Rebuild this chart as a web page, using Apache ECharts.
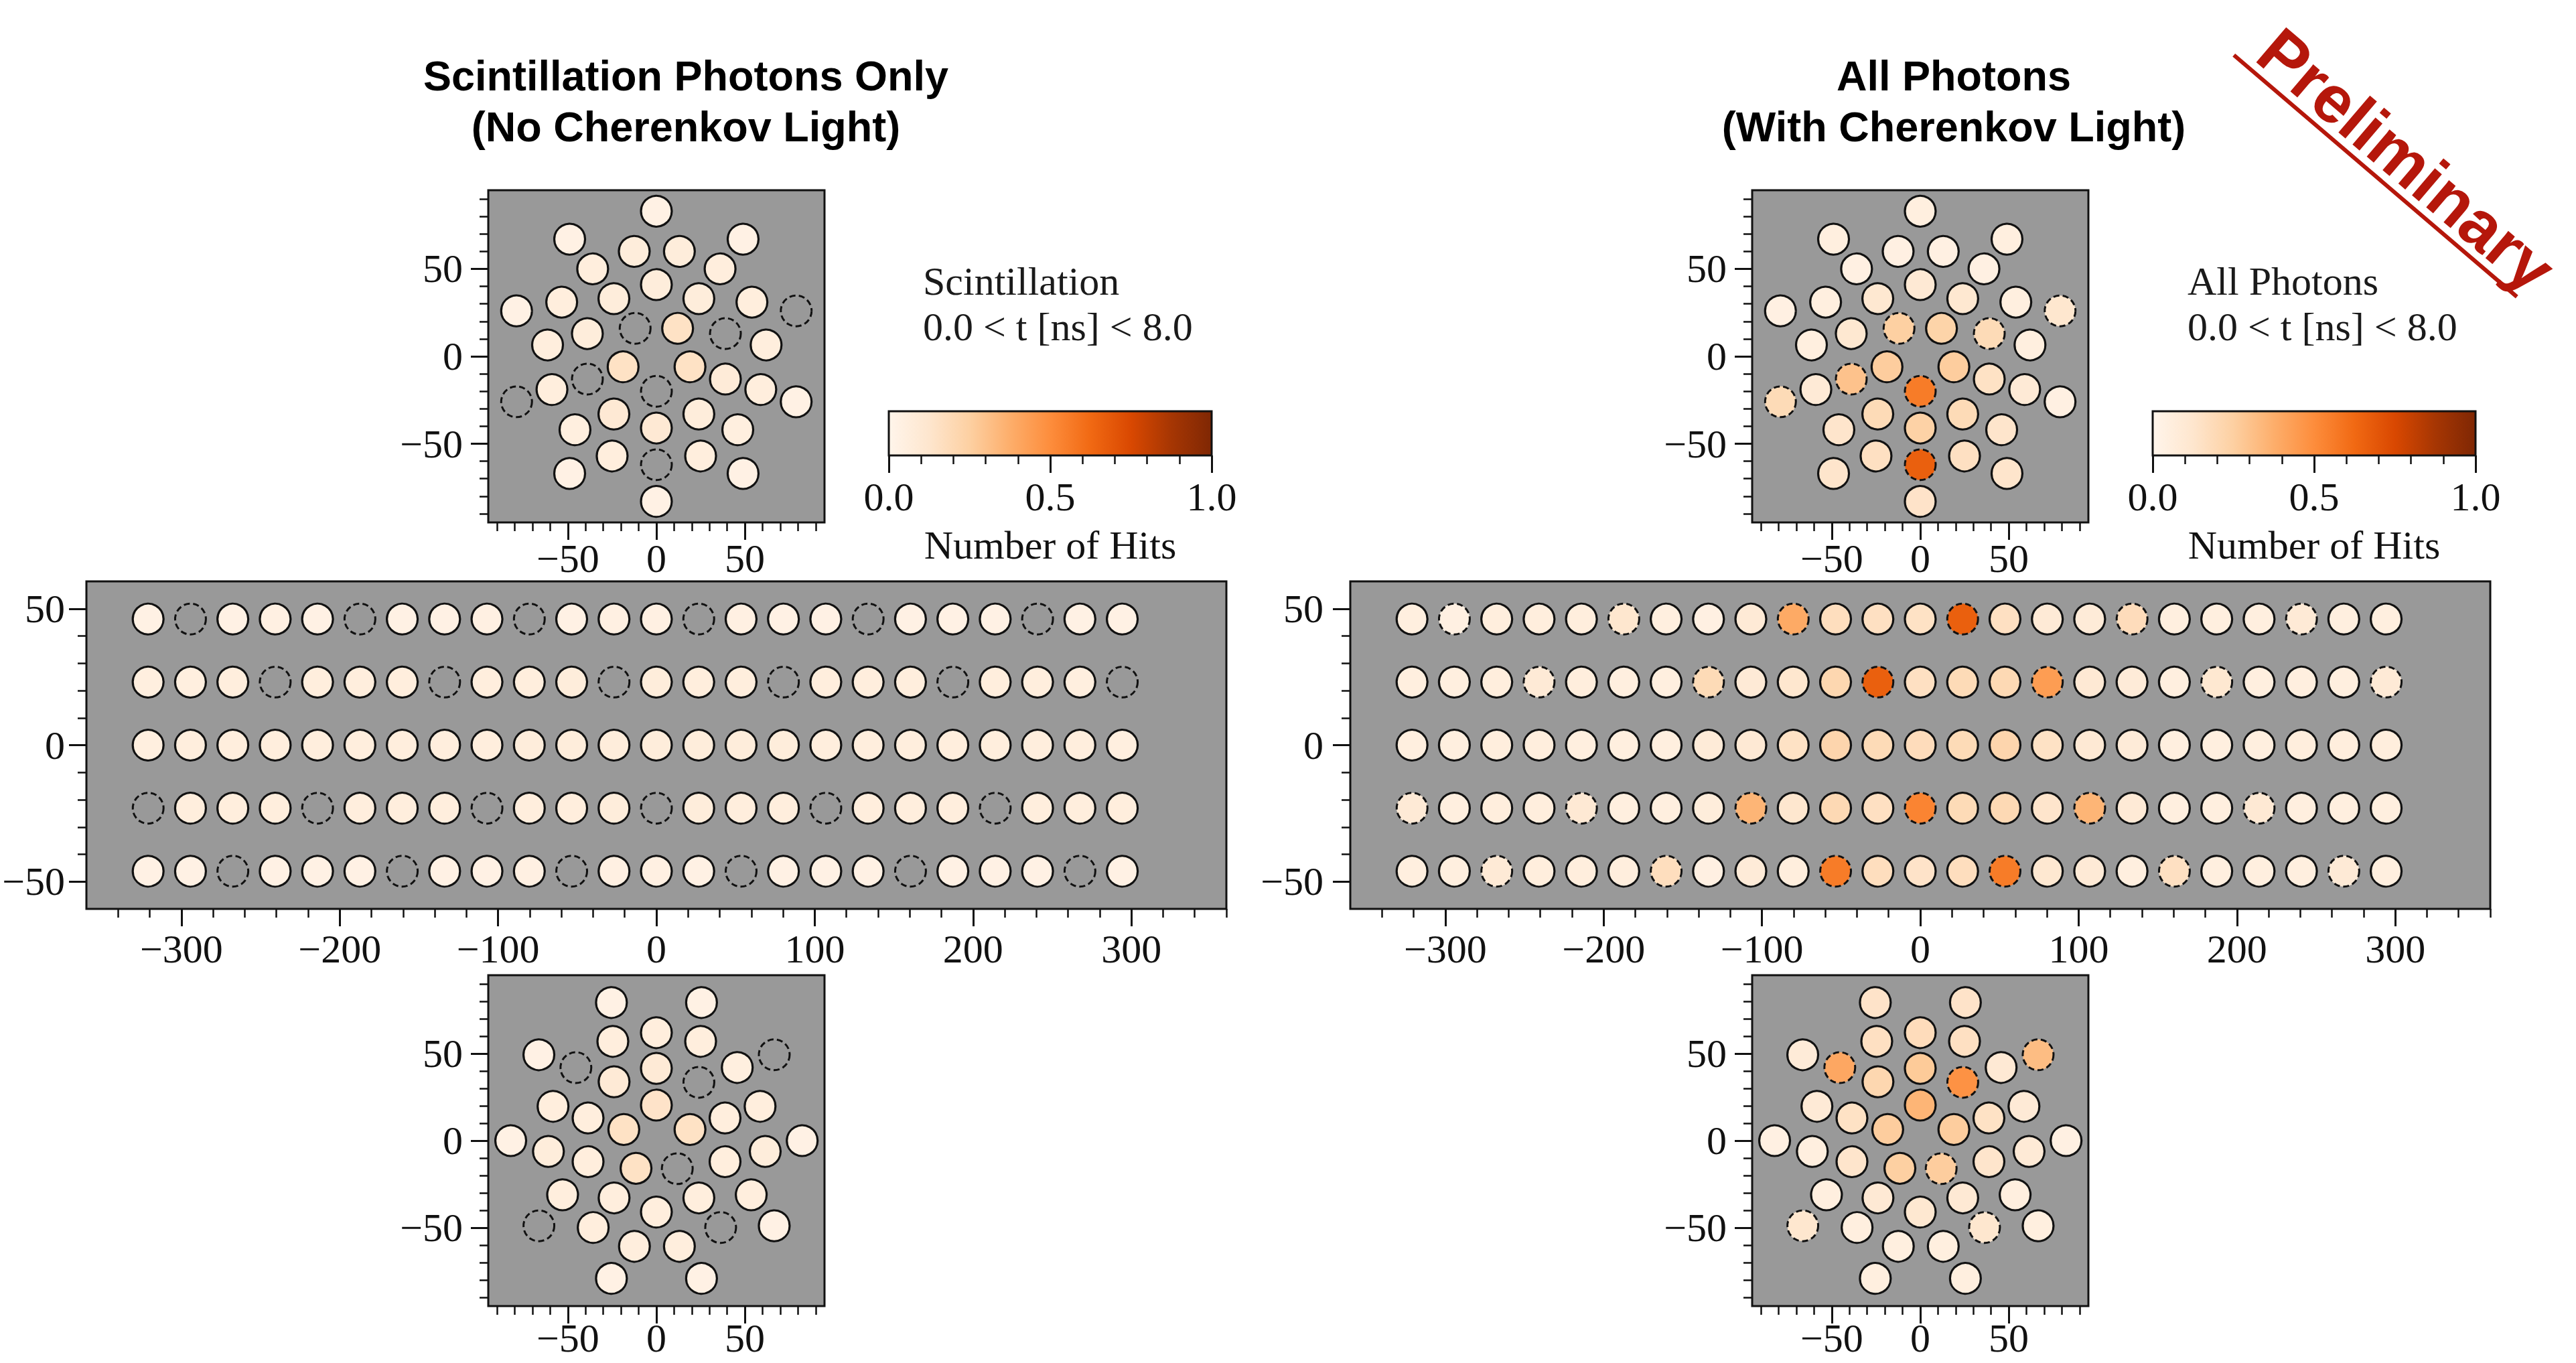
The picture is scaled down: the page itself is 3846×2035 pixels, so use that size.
<!DOCTYPE html>
<html>
<head>
<meta charset="utf-8">
<script src="https://cdn.jsdelivr.net/npm/echarts@6/dist/echarts.min.js"></script>
<style>html,body{margin:0;padding:0;background:#fff;}#main{width:3846px;height:2035px;}</style>
</head>
<body>
<div id="main"></div>
<script>
// ---------------- PMT geometry ----------------
const capTopX = [0,-49,49,-12.5,13,-36,36,0,-24,24,-53.5,54,-79,79,-12,12,-39,39,-61.5,62,-18.8,19,-39,39,-59,59,0,-79,79,-24,24,-46,46,0,-25,25,0,-49,49,0];
const capTopY = [83,67,67,60,60,50,50,41,33,33,31,31,26,26,16,16,13,13,6.5,6.5,-6,-6,-13,-13,-19,-19,-20,-26,-26,-33,-33,-42,-42,-41,-57,-57,-62,-67,-67,-83];
const capBotX = [-25.4,25.5,0,-24.6,25,-66.4,-45.5,0,45.7,66.6,-23.9,24,-58.4,0,-38.6,38.8,58.6,-18.4,19,-82.3,82.4,-61,61.5,-38.6,-11.5,11.8,38.8,-53,-23.9,24,53.6,0,-66.4,-35.7,36.3,66.6,-12.4,13,-25.4,25.5];
const capBotY = [79.3,79.3,62,57,57,49.3,41.9,41.5,42,49.3,33.8,33.5,19.7,20.4,13,13,19.7,6.4,6.4,0,0,-6.2,-6.2,-12.1,-15.9,-16.1,-12.1,-31.1,-32.9,-32.9,-31.1,-41,-48.9,-49.9,-49.9,-48.9,-60.7,-60.7,-79.1,-79.1];
const barrelX = [-321,-294.25,-267.5,-240.75,-214,-187.25,-160.5,-133.75,-107,-80.25,-53.5,-26.75,0,26.75,53.5,80.25,107,133.75,160.5,187.25,214,240.75,267.5,294.25];
const barrelY = [46.2,23.1,0,-23.1,-46.2];

// ---------------- hit values (normalised) ----------------
const scintTop = [0.03,0.03,0.03,0.07,0.07,0.06,0.06,0.07,0.07,0.07,0.06,0.06,0.03,0,0,0.15,0.07,0,0.06,0.06,0.15,0.15,0,0.08,0.06,0.06,0,0,0.03,0.10,0.07,0.05,0.05,0.10,0.06,0.06,0,0.03,0.03,0.03];
const allTop   = [0.05,0.05,0.05,0.04,0.04,0.04,0.04,0.10,0.11,0.11,0.05,0.05,0.04,0.12,0.25,0.23,0.11,0.19,0.05,0.05,0.26,0.26,0.30,0.15,0.09,0.09,0.56,0.19,0.04,0.19,0.19,0.13,0.13,0.24,0.16,0.16,0.66,0.13,0.13,0.14];
const scintBot = [0.03,0.03,0.06,0.06,0.06,0.03,0,0.09,0.05,0,0.09,0,0.06,0.14,0.06,0.06,0.06,0.15,0.15,0.03,0.03,0.07,0.07,0.06,0.15,0,0.06,0.06,0.06,0.06,0.06,0.06,0,0.06,0,0.03,0.06,0.06,0.03,0.03];
const allBot   = [0.14,0.14,0.18,0.16,0.16,0.08,0.40,0.27,0.10,0.32,0.21,0.48,0.09,0.35,0.15,0.15,0.09,0.26,0.26,0.04,0.04,0.05,0.09,0.13,0.25,0.26,0.13,0.05,0.10,0.10,0.05,0.11,0.12,0.05,0.12,0.05,0.05,0.05,0.05,0.05];
const scintBarrel1 = [0.03,0,0.03,0.04,0.03,0,0.03,0.03,0.04,0,0.03,0.04,0.04,0,0.04,0.03,0.03,0,0.03,0.03,0.03,0,0.03,0.03];
const scintBarrel2 = [0.05,0.05,0.06,0,0.06,0.06,0.06,0,0.06,0.06,0.07,0,0.07,0.06,0.06,0,0.06,0.06,0.06,0,0.06,0.06,0.05,0];
const scintBarrel3 = [0.05,0.06,0.06,0.06,0.06,0.06,0.06,0.06,0.06,0.07,0.07,0.07,0.07,0.07,0.07,0.07,0.06,0.06,0.06,0.06,0.06,0.06,0.06,0.05];
const scintBarrel4 = [0,0.06,0.06,0.06,0,0.06,0.06,0.06,0,0.06,0.06,0.07,0,0.07,0.06,0.06,0,0.06,0.06,0.06,0,0.06,0.06,0.06];
const scintBarrel5 = [0.03,0.03,0,0.03,0.03,0.03,0,0.03,0.03,0.04,0,0.04,0.04,0.03,0,0.03,0.03,0.03,0,0.03,0.03,0.03,0,0.03];
const allBarrel1 = [0.05,0.04,0.06,0.06,0.06,0.12,0.05,0.04,0.09,0.39,0.17,0.16,0.15,0.66,0.16,0.09,0.08,0.18,0.05,0.05,0.05,0.09,0.05,0.05];
const allBarrel2 = [0.05,0.05,0.06,0.09,0.06,0.05,0.05,0.19,0.09,0.12,0.21,0.66,0.16,0.19,0.20,0.44,0.10,0.08,0.05,0.11,0.05,0.05,0.05,0.09];
const allBarrel3 = [0.05,0.05,0.06,0.06,0.05,0.05,0.05,0.08,0.10,0.15,0.22,0.19,0.18,0.19,0.22,0.15,0.10,0.08,0.05,0.05,0.05,0.06,0.06,0.06];
const allBarrel4 = [0.09,0.05,0.06,0.06,0.10,0.05,0.05,0.07,0.35,0.12,0.20,0.16,0.53,0.19,0.20,0.13,0.35,0.09,0.05,0.05,0.10,0.05,0.05,0.05];
const allBarrel5 = [0.05,0.05,0.09,0.06,0.06,0.06,0.17,0.04,0.08,0.06,0.56,0.17,0.14,0.17,0.56,0.11,0.09,0.05,0.16,0.05,0.05,0.05,0.09,0.05];

// ---------------- ticks ----------------
const capTicks = [-50,0,50];
const capMinor = [-90,-80,-70,-60,-40,-30,-20,-10,10,20,30,40,60,70,80,90];
const barrelXTicks = [-300,-200,-100,0,100,200,300];
const barrelXMinor = [-340,-320,-280,-260,-240,-220,-180,-160,-140,-120,-80,-60,-40,-20,20,40,60,80,120,140,160,180,220,240,260,280,320,340,360];
const barrelYTicks = [-50,0,50];
const barrelYMinor = [-40,-30,-20,-10,10,20,30,40];
const cbarTicks = [0,0.5,1];
const cbarMinor = [0.1,0.2,0.3,0.4,0.6,0.7,0.8,0.9];
const ORANGES = ['#fff5eb','#fee6ce','#fdd0a2','#fdae6b','#fd8d3c','#f16913','#d94801','#a63603','#7f2704'];

// ---------------- styling constants ----------------
const GREY = '#999999', INK = '#111111', RED = '#b5170b';
const SERIF = '"Liberation Serif","DejaVu Serif",serif';
const SANS = '"Liberation Sans",Arial,sans-serif';
const SHIFT = 1887;
const fmtMinus = v => (v < 0 ? '\u2212' : '') + Math.abs(v);

const grids = [], xAxes = [], yAxes = [], series = [], colored = [];

function axisPair(dim, gi, range, major, minor, margin, fmt, extra) {
  const list = dim === 'x' ? xAxes : yAxes;
  const pos = dim === 'x' ? 'bottom' : 'left';
  const idx = list.length;
  list.push(Object.assign({
    type: 'value', gridIndex: gi, min: range[0], max: range[1], position: pos,
    axisLine: {show: false, onZero: false}, splitLine: {show: false},
    axisTick: {show: true, inside: false, length: 26, customValues: major, lineStyle: {color: INK, width: 3}},
    axisLabel: {show: true, customValues: major, margin: margin, fontFamily: SERIF, fontSize: 60,
      lineHeight: 56, color: INK, formatter: fmt || fmtMinus}
  }, extra || {}));
  list.push({
    type: 'value', gridIndex: gi, min: range[0], max: range[1], position: pos,
    axisLine: {show: false, onZero: false}, splitLine: {show: false},
    axisTick: {show: true, inside: false, length: 13, customValues: minor, lineStyle: {color: INK, width: 2.5}},
    axisLabel: {show: false}
  });
  return idx;
}

function panel(rect, xr, yr, xMaj, xMin, yMaj, yMin, xMargin, yMargin) {
  const gi = grids.length;
  grids.push({left: rect[0], top: rect[1], width: rect[2], height: rect[3], show: true,
    backgroundColor: GREY, borderColor: INK, borderWidth: 3, outerBoundsMode: 'none'});
  return {xi: axisPair('x', gi, xr, xMaj, xMin, xMargin), yi: axisPair('y', gi, yr, yMaj, yMin, yMargin)};
}

function pmts(ax, xs, ys, vals, scint, fillDashed) {
  const solid = [], dashed = [];
  xs.forEach((x, i) => { const p = [x, ys[i], vals[i]]; (scint[i] === 0 ? dashed : solid).push(p); });
  series.push({type: 'scatter', xAxisIndex: ax.xi, yAxisIndex: ax.yi, data: solid, symbol: 'circle',
    symbolSize: 46, silent: true, itemStyle: {borderColor: INK, borderWidth: 3.2, opacity: 1}});
  colored.push(series.length - 1);
  series.push({type: 'scatter', xAxisIndex: ax.xi, yAxisIndex: ax.yi, data: dashed, symbol: 'circle',
    symbolSize: 46, silent: true, itemStyle: {color: fillDashed ? '#ffffff' : 'rgba(0,0,0,0)',
      borderColor: INK, borderWidth: 3, borderType: [9, 5], opacity: 1}});
  if (fillDashed) colored.push(series.length - 1);
}

function barrelFlat(rows) {
  const xs = [], ys = [], vs = [];
  rows.forEach((row, r) => row.forEach((v, c) => { xs.push(barrelX[c]); ys.push(barrelY[r]); vs.push(v); }));
  return {xs, ys, vs};
}

function colorbar(left) {
  const gi = grids.length;
  grids.push({left: left, top: 614, width: 482, height: 66, show: false, outerBoundsMode: 'none'});
  const xi = axisPair('x', gi, [0, 1], cbarTicks, cbarMinor, 34, v => v.toFixed(1), {
    name: 'Number of Hits', nameLocation: 'middle', nameGap: 104,
    nameTextStyle: {fontFamily: SERIF, fontSize: 60, color: INK}
  });
  const yi = yAxes.length;
  yAxes.push({type: 'value', gridIndex: gi, min: 0, max: 1, show: false});
  series.push({
    type: 'custom', xAxisIndex: xi, yAxisIndex: yi, silent: true, data: [[0, 0, 1, 1]],
    renderItem: (params, api) => {
      const a = api.coord([api.value(0), api.value(3)]);
      const b = api.coord([api.value(2), api.value(1)]);
      return {type: 'rect', shape: {x: a[0], y: a[1], width: b[0] - a[0], height: b[1] - a[1]},
        style: {fill: new echarts.graphic.LinearGradient(0, 0, 1, 0,
          ORANGES.map((c, i) => ({offset: i / (ORANGES.length - 1), color: c}))), stroke: INK, lineWidth: 3}};
    }
  });
}

const capR = [-95, 95];
const scintRows = [scintBarrel1, scintBarrel2, scintBarrel3, scintBarrel4, scintBarrel5];
const allRows = [allBarrel1, allBarrel2, allBarrel3, allBarrel4, allBarrel5];
const bScint = barrelFlat(scintRows), bAll = barrelFlat(allRows);

[0, 1].forEach(side => {
  const dx = side * SHIFT;
  const fill = side === 1;
  const top = panel([729 + dx, 284, 502, 496], capR, capR, capTicks, capMinor, capTicks, capMinor, 26, 38);
  pmts(top, capTopX, capTopY, fill ? allTop : scintTop, scintTop, fill);
  const bar = panel([129 + dx, 868, 1702, 489], [-360, 360], [-60, 60], barrelXTicks, barrelXMinor,
    barrelYTicks, barrelYMinor, 32, side === 0 ? 32 : 40);
  pmts(bar, bScint.xs, bScint.ys, fill ? bAll.vs : bScint.vs, bScint.vs, fill);
  const bot = panel([729 + dx, 1456, 502, 494], capR, capR, capTicks, capMinor, capTicks, capMinor, 20, 38);
  pmts(bot, capBotX, capBotY, fill ? allBot : scintBot, scintBot, fill);
  colorbar(1327 + dx);
});

function txt(x, y, s, font, size, weight, align, color) {
  return {type: 'text', x: x, y: y, z: 50, silent: true,
    style: {text: s, fontFamily: font, fontSize: size, fontWeight: weight || 'normal',
      fill: color || '#000', align: align || 'center', verticalAlign: 'middle'}};
}

const graphics = [
  txt(1024, 113, 'Scintillation Photons Only', SANS, 63, 'bold'),
  txt(1024, 189, '(No Cherenkov Light)', SANS, 63, 'bold'),
  txt(2917, 113, 'All Photons', SANS, 63, 'bold'),
  txt(2917, 189, '(With Cherenkov Light)', SANS, 63, 'bold'),
  txt(1378, 420, 'Scintillation', SERIF, 60, 'normal', 'left', '#1a1a1a'),
  txt(1378, 488, '0.0 < t [ns] < 8.0', SERIF, 60, 'normal', 'left', '#1a1a1a'),
  txt(3266, 420, 'All Photons', SERIF, 60, 'normal', 'left', '#1a1a1a'),
  txt(3266, 488, '0.0 < t [ns] < 8.0', SERIF, 60, 'normal', 'left', '#1a1a1a'),
  {type: 'group', x: 3548, y: 264, rotation: -40.5 * Math.PI / 180, z: 60, silent: true, children: [
    {type: 'text', x: 18, y: -48, style: {text: 'Preliminary', fontFamily: SANS, fontSize: 100, lineHeight: 72,
      fontWeight: 'bold', fill: RED, align: 'center', verticalAlign: 'middle'}},
    {type: 'line', shape: {x1: -280, y1: 0, x2: 276, y2: 0}, style: {stroke: RED, lineWidth: 6}}
  ]}
];

const chart = echarts.init(document.getElementById('main'), null, {renderer: 'svg', width: 3846, height: 2035});
chart.setOption({
  animation: false,
  backgroundColor: '#ffffff',
  grid: grids,
  xAxis: xAxes,
  yAxis: yAxes,
  visualMap: [{type: 'continuous', show: false, min: 0, max: 1, dimension: 2, seriesIndex: colored,
    inRange: {color: ORANGES}}],
  series: series,
  graphic: graphics
});
</script>
</body>
</html>
